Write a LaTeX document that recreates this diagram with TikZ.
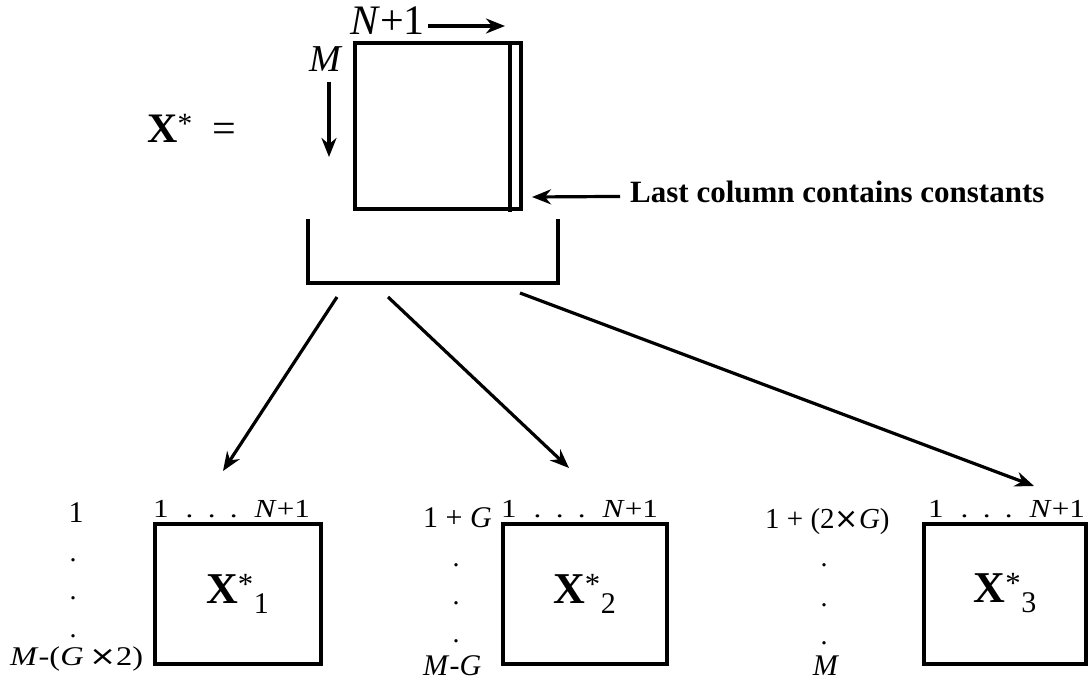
\documentclass[tikz,border=0pt]{standalone}
\usepackage{fontspec}
\usepackage{graphicx}
\setmainfont{Liberation Serif}
\newfontfamily\symfont{DejaVu Sans}
\usetikzlibrary{arrows.meta}
\newcommand{\fsz}[1]{\fontsize{#1}{#1}\selectfont}
\newcommand{\xsub}[1]{\fsz{44}\textbf{X}\textsuperscript{*}\raisebox{-10pt}{\fsz{30}#1}}
\newcommand{\colhdr}{\scalebox{1.2}[1]{\fsz{26}1\hspace{14pt}.\hspace{12pt}.\hspace{12pt}.\hspace{14pt}\textit{N}+1}}
\newcommand{\tms}{{\symfont ×}}

\begin{document}
\begin{tikzpicture}[x=1pt, y=-1pt,
    mat/.style={draw, line width=4pt},
    sub/.style={mat, minimum width=#1, minimum height=140pt, inner sep=0pt},
    conn/.style={line width=3.2pt, -{Stealth[length=19pt, width=15pt]}},
    lbl/.style={inner sep=0pt}]
    \useasboundingbox (0,0) rectangle (1090,682);

    % Full matrix
    \node[mat, minimum width=166pt, minimum height=165pt, inner sep=0pt] (xfull) at (437.5,126) {};
    \draw[mat] (510,43.5) -- (510,212);
    \node[lbl, anchor=base west] (lhs) at (147,143) {\fsz{42}\textbf{X}\textsuperscript{*}\hspace{20pt}=};
    \node[lbl, anchor=base west] (ncol) at (350,35) {\fsz{42}\textit{N}+1};
    \node[lbl, anchor=base] (mrow) at (326,72) {\fsz{38}\textit{M}};
    \coordinate (ncolA) at (428,26);
    \coordinate (ncolB) at (505,26);
    \coordinate (mrowA) at (329,82);
    \coordinate (mrowB) at (329,157);
    \draw[conn] (ncolA) -- (ncolB);
    \draw[conn] (mrowA) -- (mrowB);

    % Constant column note
    \node[lbl, anchor=base west] (lastcol) at (630,203) {\fsz{31}\textbf{Last column contains constants}};
    \coordinate (colend) at (532,197);
    \draw[conn] ([xshift=-10pt, yshift=-4pt]lastcol.west) -- (colend);

    % Bracket and split arrows
    \draw[mat] (308,219) -- (308,283) -- (558,283) -- (558,219);
    \coordinate (s1) at (337,297);
    \coordinate (s2) at (388,297);
    \coordinate (s3) at (520,293);
    \coordinate (t1) at (223,471);
    \coordinate (t2) at (569,468);
    \coordinate (t3) at (1034,486);
    \draw[conn] (s1) -- (t1);
    \draw[conn] (s2) -- (t2);
    \draw[conn] (s3) -- (t3);

    % Sub-matrices
    \node[sub=166pt] (xa) at (237.5,593.5) {\xsub{1}};
    \node[sub=164pt] (xb) at (584.5,593.5) {\xsub{2}};
    \node[sub=162pt] (xc) at (1005,593.5) {\xsub{3}};
    \node[lbl, anchor=base west] (ha) at (153,517) {\colhdr};
    \node[lbl, anchor=base west] (hb) at (501,517) {\colhdr};
    \node[lbl, anchor=base west] (hc) at (928,517) {\colhdr};

    % Row ranges
    \node[lbl, anchor=base] (ra) at (76,522) {\fsz{30}1};
    \node[lbl, anchor=base west] (rae) at (10,665) {\scalebox{1.2}[1]{\fsz{27}\textit{M}-(\textit{G}\,\tms2)}};
    \node[lbl, anchor=base east] (rb) at (492,527) {\fsz{30}1 + \textit{G}};
    \node[lbl, anchor=base west] (rbe) at (423,675) {\fsz{30}\textit{M}-\textit{G}};
    \node[lbl, anchor=base west] (rc) at (765,528) {\fsz{29}1 + (2\tms\textit{G})};
    \node[lbl, anchor=base] (rce) at (826,675) {\fsz{30}\textit{M}};
    \foreach \y in {560,598,636}
        \node[lbl] at (73,\y) {\fsz{28}.};
    \foreach \y in {565,603,641}
        \node[lbl] at (456,\y) {\fsz{28}.};
    \foreach \y in {565,605,643}
        \node[lbl] at (824,\y) {\fsz{28}.};
\end{tikzpicture}
\end{document}
